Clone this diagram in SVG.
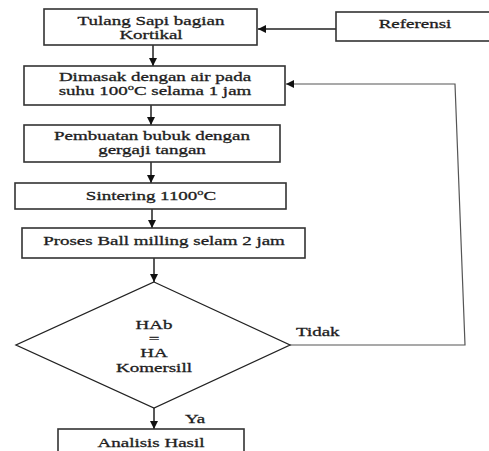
<svg xmlns="http://www.w3.org/2000/svg" width="489" height="451" viewBox="0 0 489 451">
<style>
.box{fill:#fff;stroke:#333;stroke-width:1.6}
.t{font-family:"Liberation Serif","Times New Roman",serif;font-size:13px;fill:#1e1e1e;stroke:#1e1e1e;stroke-width:0.3;text-anchor:middle}
.tl{font-family:"Liberation Serif","Times New Roman",serif;font-size:13px;fill:#1e1e1e;stroke:#1e1e1e;stroke-width:0.3;text-anchor:start}
.c{fill:none;stroke:#222;stroke-width:1.5}
.fb{fill:none;stroke:#555;stroke-width:1.2}
</style>
<defs>
<marker id="ah" viewBox="0 0 10 10" refX="10" refY="5" markerWidth="9" markerHeight="8" markerUnits="userSpaceOnUse" orient="auto">
<path d="M0,0 L10,5 L0,10 z" fill="#111"/>
</marker>
</defs>
<rect width="489" height="451" fill="#fff"/>
<g id="connectors">
<line class="c" x1="336" y1="29" x2="258" y2="29" marker-end="url(#ah)"/>
<line class="c" x1="153" y1="45" x2="153" y2="66" marker-end="url(#ah)"/>
<line class="c" x1="151" y1="105" x2="151" y2="125" marker-end="url(#ah)"/>
<line class="c" x1="151" y1="162" x2="151" y2="183" marker-end="url(#ah)"/>
<line class="c" x1="152" y1="209" x2="152" y2="228" marker-end="url(#ah)"/>
<line class="c" x1="154" y1="258" x2="154" y2="282" marker-end="url(#ah)"/>
<line class="c" x1="154" y1="408" x2="154" y2="429" marker-end="url(#ah)"/>
<polyline class="fb" points="290,345 465,345 455,84 286,84" marker-end="url(#ah)"/>
<g transform="translate(296,336) scale(1.46,1)"><text class="tl" x="0" y="0">Tidak</text></g>
<g transform="translate(185,423) scale(1.46,1)"><text class="tl" x="0" y="0">Ya</text></g>
</g>
<g id="n-tulang">
<rect class="box" x="44" y="9" width="213" height="36"/>
<g transform="translate(151,0) scale(1.46,1)">
<text class="t" x="0" y="25.5">Tulang Sapi bagian</text>
<text class="t" x="0" y="39.5">Kortikal</text>
</g>
</g>
<g id="n-referensi">
<rect class="box" x="336" y="12" width="170" height="29"/>
<g transform="translate(415,0) scale(1.46,1)"><text class="t" x="0" y="28">Referensi</text></g>
</g>
<g id="n-dimasak">
<rect class="box" x="24" y="66" width="261" height="39"/>
<g transform="translate(155,0) scale(1.46,1)">
<text class="t" x="0" y="81">Dimasak dengan air pada</text>
<text class="t" x="0" y="95.5">suhu 100<tspan font-size="8.5" dy="-5">o</tspan><tspan dy="5">C selama 1 jam</tspan></text>
</g>
</g>
<g id="n-pembuatan">
<rect class="box" x="24" y="125" width="256" height="37"/>
<g transform="translate(152,0) scale(1.46,1)">
<text class="t" x="0" y="140">Pembuatan bubuk dengan</text>
<text class="t" x="0" y="154.5">gergaji tangan</text>
</g>
</g>
<g id="n-sintering">
<rect class="box" x="15" y="183" width="271" height="26"/>
<g transform="translate(151,0) scale(1.46,1)">
<text class="t" x="0" y="200">Sintering 1100<tspan font-size="8.5" dy="-5">o</tspan><tspan dy="5">C</tspan></text>
</g>
</g>
<g id="n-ballmilling">
<rect class="box" x="22" y="228" width="283" height="30"/>
<g transform="translate(164,0) scale(1.46,1)">
<text class="t" x="0" y="245">Proses Ball milling selam 2 jam</text>
</g>
</g>
<g id="n-decision">
<polygon class="box" points="154,282 290,345 154,408 16,345" style="stroke:#222;stroke-width:1.3"/>
<g transform="translate(154,0) scale(1.46,1)">
<text class="t" x="0" y="329.5">HAb</text>
<text class="t" x="0" y="343.5">=</text>
<text class="t" x="0" y="357.5">HA</text>
<text class="t" x="0" y="372">Komersill</text>
</g>
</g>
<g id="n-analisis">
<rect class="box" x="58" y="429" width="186" height="40"/>
<g transform="translate(151,0) scale(1.46,1)">
<text class="t" x="0" y="447">Analisis Hasil</text>
</g>
</g>
</svg>
